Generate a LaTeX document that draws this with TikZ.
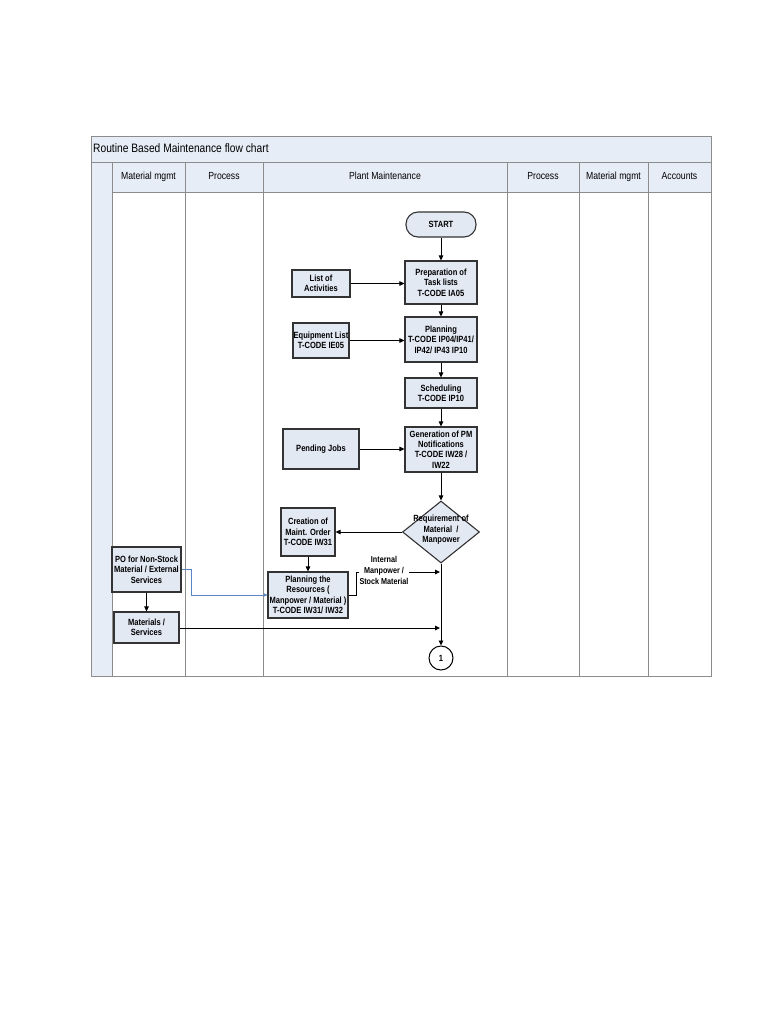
\documentclass[tikz,border=0pt]{standalone}
\usepackage{fontspec}
\setmainfont{Liberation Sans}[FakeStretch=0.84]
\usetikzlibrary{shapes.geometric,arrows.meta}
\definecolor{boxfill}{HTML}{E3E9F3}
\definecolor{lanefill}{HTML}{E7EDF7}
\definecolor{laneline}{HTML}{8C8C8C}
\definecolor{boxline}{HTML}{333333}
\definecolor{poblue}{HTML}{5B84C4}
\begin{document}
\begin{tikzpicture}[x=1pt,y=-1pt,
  lane/.style={draw=laneline,line width=0.6pt},
  hdr/.style={font=\fontsize{10.3}{12}\selectfont,inner sep=0pt,anchor=base},
  box/.style={draw=boxline,line width=1.1pt,fill=boxfill,align=center,inner sep=0pt,
    font=\bfseries\fontsize{9}{10.4}\selectfont},
  lbl/.style={align=center,inner sep=1pt,font=\bfseries\fontsize{9}{10.4}\selectfont},
  arr/.style={draw=black,line width=0.9pt,-{Triangle[length=5pt,width=4.5pt]}},
  ln/.style={draw=black,line width=0.9pt}]
\useasboundingbox (0,0) rectangle (768,1024);
% swimlane frame
\fill[lanefill] (91,136) rectangle (711,192);
\fill[lanefill] (91,192) rectangle (112,676);
\draw[lane] (91,136) rectangle (711,676);
\draw[lane] (91,162) -- (711,162);
\draw[lane] (112,192) -- (711,192);
\foreach \x in {112,185,263,507,579,648} \draw[lane] (\x,162) -- (\x,676);
\node[anchor=base west,font=\fontsize{12.2}{14}\selectfont,inner sep=0pt] (title) at (93,152.5) {Routine Based Maintenance flow chart};
\node[hdr] (h1) at (148.5,179.8) {Material mgmt};
\node[hdr] (h2) at (224,179.8) {Process};
\node[hdr] (h3) at (385,179.8) {Plant Maintenance};
\node[hdr] (h4) at (543,179.8) {Process};
\node[hdr] (h5) at (613.5,179.8) {Material mgmt};
\node[hdr] (h6) at (679.5,179.8) {Accounts};
% nodes
\node[box,rounded corners=12pt,minimum width=70pt,minimum height=25pt] (start) at (441,224.5) {START};
\node[box,minimum width=72pt,minimum height=43pt] (prep) at (441,282.5) {Preparation of\\Task lists\\T-CODE IA05};
\node[box,minimum width=58pt,minimum height=27pt] (list) at (321,283.5) {List of\\Activities};
\node[box,minimum width=72pt,minimum height=45pt] (plan) at (441,339.5) {Planning\\T-CODE IP04/IP41/\\IP42/ IP43 IP10};
\node[box,minimum width=56pt,minimum height=35pt] (equip) at (321,340.5) {Equipment List\\T-CODE IE05};
\node[box,minimum width=72pt,minimum height=30pt] (sched) at (441,393) {Scheduling\\T-CODE IP10};
\node[box,minimum width=72pt,minimum height=45pt] (gen) at (441,449.5) {Generation of PM\\Notifications\\T-CODE IW28 /\\IW22};
\node[box,minimum width=76pt,minimum height=40pt] (pend) at (321,449) {Pending Jobs};
\node[box,diamond,minimum width=77pt,minimum height=62pt,inner sep=0pt] (dia) at (441,532) {};
\node[lbl] (diat) at (441,530) {Requirement of\\Material~~/\\Manpower};
\node[box,minimum width=54pt,minimum height=48pt] (creat) at (308,532) {Creation of\\Maint. Order\\T-CODE IW31};
\node[box,minimum width=69pt,minimum height=45pt] (po) at (146.5,569.5) {PO for Non-Stock\\Material / External\\Services};
\node[box,minimum width=65pt,minimum height=31pt] (mat) at (146.5,627.5) {Materials /\\Services};
\node[box,minimum width=80pt,minimum height=46pt] (pres) at (308,595) {Planning the\\Resources (\\Manpower / Material )\\T-CODE IW31/ IW32};
\node[draw=black,line width=1pt,fill=white,circle,minimum size=24pt,inner sep=0pt,font=\bfseries\fontsize{9}{10}\selectfont] (c1) at (441,658) {1};
% connectors
\draw[arr] (start) -- (prep);
\draw[arr] (prep) -- (plan);
\draw[arr] (plan) -- (sched);
\draw[arr] (sched) -- (gen);
\draw[arr] (gen) -- (dia);
\draw[arr] (list.east) -- (list.east -| prep.west);
\draw[arr] (equip.east) -- (equip.east -| plan.west);
\draw[arr] (pend.east) -- (pend.east -| gen.west);
\draw[arr] (dia.west) -- (creat.east);
\draw[arr] (creat) -- (pres);
\draw[arr] (dia.south) -- (c1.north);
\draw[arr] (po) -- (mat);
\coordinate (jm) at (440,628);
\draw[arr] (mat.east |- jm) -- (jm);
\coordinate (ji) at (440,572);
\draw[arr] (pres.east) -- ++(8,0) |- (ji);
\node[lbl,fill=white,font=\bfseries\fontsize{8.6}{11}\selectfont] (intl) at (384,570) {Internal\\Manpower /\\Stock Material};
\draw[draw=poblue,line width=0.5pt,-{Triangle[length=3.5pt,width=3pt]}] (po.east) -- ++(10,0) |- (pres.west);
\end{tikzpicture}
\end{document}
